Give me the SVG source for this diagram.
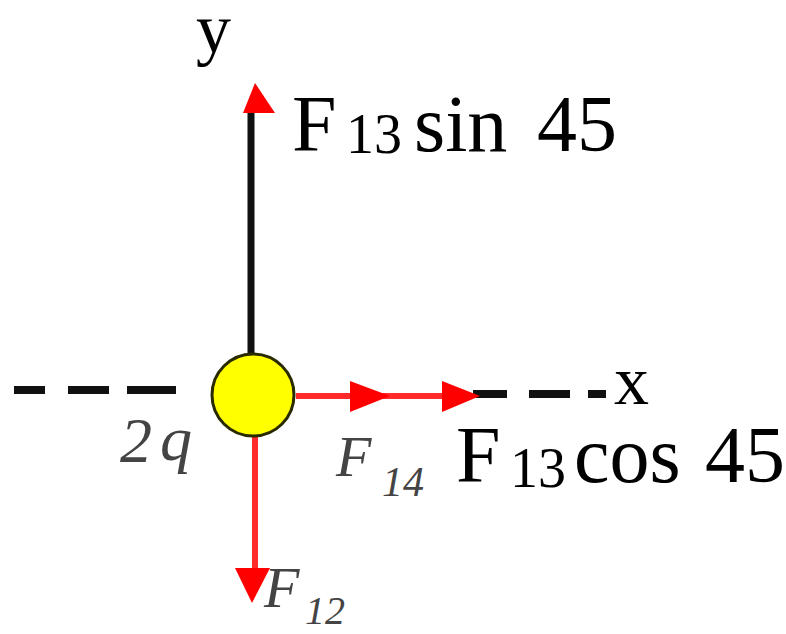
<svg xmlns="http://www.w3.org/2000/svg" width="786" height="634" viewBox="0 0 786 634">
<style>
.axis{stroke:#111;stroke-width:7;fill:none}
.dash{stroke:#111;stroke-width:8;fill:none}
.force{stroke:#ff2a2a;stroke-width:6;fill:none}
.head{fill:#ff0000}
.main{font-family:'Liberation Serif','DejaVu Serif',serif;fill:#000}
.lbl{font-family:'Liberation Serif','DejaVu Serif',serif;font-style:italic;fill:#444}
</style>
<rect width="786" height="634" fill="#fff"/>
<g id="connectors">
  <line class="dash" x1="14" y1="390" x2="45" y2="390"/>
  <line class="dash" x1="68" y1="390" x2="109" y2="390"/>
  <line class="dash" x1="127" y1="390" x2="176" y2="390"/>
  <line class="dash" x1="473" y1="394" x2="507" y2="394"/>
  <line class="dash" x1="529" y1="394" x2="570" y2="394"/>
  <line class="dash" x1="588" y1="394" x2="606" y2="394"/>
  <line class="axis" x1="251" y1="110" x2="251" y2="358"/>
  <polygon class="head" points="255,83 243,113 275,113"/>
  <line class="force" x1="296" y1="396" x2="470" y2="396"/>
  <polygon class="head" points="390,396 350,381 350,412"/>
  <polygon class="head" points="480,396 442,381 442,412"/>
  <line class="force" x1="255" y1="434" x2="255" y2="575"/>
  <polygon class="head" points="252,603 235,568 270,568"/>
</g>
<g id="charge">
  <circle cx="253" cy="395" r="41" fill="#ffff00" stroke="#2a2a00" stroke-width="3"/>
  <text class="lbl" x="120" y="462" font-size="64">2</text>
  <text class="lbl" x="160" y="460" font-size="64">q</text>
</g>
<g id="axis-labels">
  <text class="main" x="196" y="52" font-size="70">y</text>
  <text class="main" x="614" y="404" font-size="70">x</text>
</g>
<g id="label-sin">
  <text class="main" x="292" y="151" font-size="80">F</text>
  <text class="main" x="346" y="153" font-size="56">13</text>
  <text class="main" x="414" y="151" font-size="80">sin</text>
  <text class="main" x="537" y="151" font-size="80">45</text>
</g>
<g id="label-cos">
  <text class="main" x="456" y="482" font-size="80">F</text>
  <text class="main" x="510" y="487" font-size="56">13</text>
  <text class="main" x="574" y="482" font-size="80">cos</text>
  <text class="main" x="705" y="482" font-size="80">45</text>
</g>
<g id="label-f14">
  <text class="lbl" x="336" y="476" font-size="58">F</text>
  <text class="lbl" x="382" y="496" font-size="42">14</text>
</g>
<g id="label-f12">
  <text class="lbl" x="264" y="607" font-size="58">F</text>
  <text class="lbl" x="305" y="624" font-size="40">12</text>
</g>
</svg>
